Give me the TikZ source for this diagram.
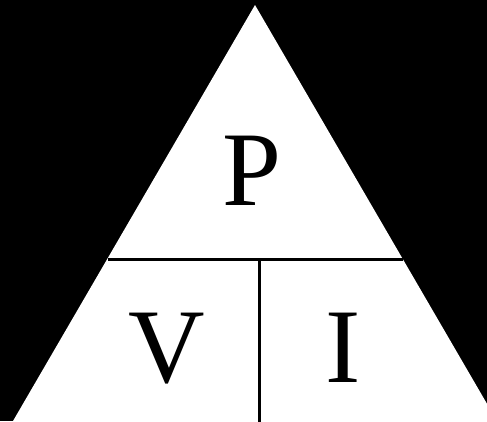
\documentclass[tikz,border=0pt]{standalone}
\usepackage{fontspec}
\setmainfont{Liberation Serif}
\usepackage{tikz}
\usetikzlibrary{positioning,calc}

\begin{document}
\begin{tikzpicture}[x=1pt, y=-1pt,
    letter/.style={font=\fontsize{106}{106}\selectfont, inner sep=0pt},
    divider/.style={line width=3pt, black}]
        \clip (0,0) rectangle (487,421);
        \fill[black] (0,0) rectangle (487,421);
        \fill[white] (255,5) -- (497,421) -- (13,421) -- cycle;
        \coordinate (midL) at (108,259);
        \coordinate (midR) at (403,259);
        \coordinate (midC) at (259,259);
        \coordinate (bot) at (259,423);
        \draw[divider] (midL) -- (midR);
        \draw[divider] (midC) -- (bot);
        \node[letter] (power) at (252,171) {P};
        \node[letter] (volt) at (167,349) {V};
        \node[letter] (amp) at (343,348) {I};
    \end{tikzpicture}
\end{document}
